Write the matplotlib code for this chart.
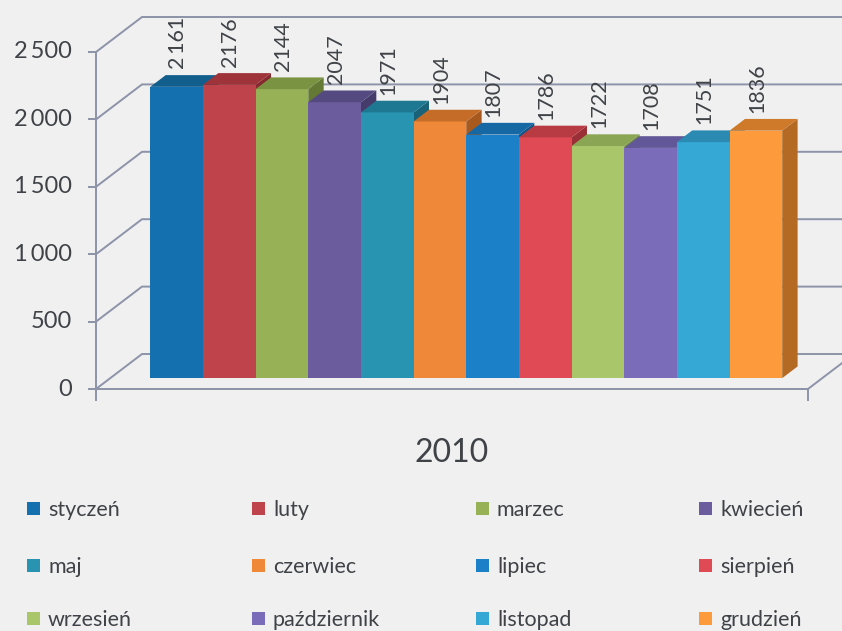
import matplotlib
matplotlib.use("Agg")
import matplotlib.pyplot as plt
from matplotlib.patches import Polygon, Rectangle

plt.rcParams['font.family'] = ['Lato', 'DejaVu Sans']

# ---------------- data ----------------
months = ["styczeń", "luty", "marzec", "kwiecień", "maj", "czerwiec",
          "lipiec", "sierpień", "wrzesień", "październik", "listopad", "grudzień"]
values = [2161, 2176, 2144, 2047, 1971, 1904, 1807, 1786, 1722, 1708, 1751, 1836]
value_labels = ["2\u2009161", "2176", "2144", "2047", "1971", "1904",
                "1807", "1786", "1722", "1708", "1751", "1836"]
y_ticks = [0, 500, 1000, 1500, 2000, 2500]
y_tick_labels = ["0", "500", "1\u2009000", "1\u2009500", "2\u2009000", "2\u2009500"]
category_title = "2010"

front_colors = ["#1470ae", "#bf434a", "#97b156", "#6b5c9d", "#2994b2", "#f0883a",
                "#1b80c8", "#e04a55", "#a9c66a", "#7a6cb8", "#35a8d6", "#fd9a3c"]
top_colors = ["#125f8e", "#9e3439", "#7a9342", "#554a80", "#1f7892", "#c56d28",
              "#1568a4", "#b83a43", "#8aa654", "#625798", "#2a8ab2", "#cf7a2a"]
side_colors = ["#0e4f76", "#85292e", "#647a34", "#463c6b", "#18637a", "#a8591e",
               "#105688", "#9a2f37", "#748c44", "#51477e", "#227296", "#b46a22"]

# ---------------- geometry ----------------
W, H = 842, 631
fig = plt.figure(figsize=(W / 100, H / 100), dpi=100)
fig.patch.set_facecolor("#f0f0f1")
ax = fig.add_axes([0, 0, 1, 1])
ax.set_facecolor("#f0f0f1")
ax.axis("off")

n = len(values)
PXC = 52.66            # pixels per category
PXV = 337 / 2500       # pixels per value unit
AX_PX, AX_PY = 96, 389  # front axis origin in pixels (from top-left)
XL = -1.26
XR = n - 1 + 1.26
ax.set_xlim(XL - AX_PX / PXC, XL + (W - AX_PX) / PXC)
ax.set_ylim(-(H - AX_PY) / PXV, AX_PY / PXV)

DX = 46 / PXC
DY = 35 / PXV
d0, d1 = 0.31, 0.645

line_c = "#8d93a8"
lw = 1.4
txt_c = "#3f4347"

# walls / grid
for v in y_ticks:
    ax.plot([XL, XL + DX, XR + DX + 2], [v, v + DY, v + DY], color=line_c, lw=lw, zorder=1,
            solid_capstyle="butt")
    ax.plot([XL - 7 / PXC, XL], [v, v], color=line_c, lw=lw, zorder=1)
ax.plot([XL, XL], [-11 / PXV, y_ticks[-1]], color=line_c, lw=lw, zorder=1)
ax.plot([XL, XR], [0, 0], color=line_c, lw=lw, zorder=1)
ax.plot([XR, XR], [0, -11 / PXV], color=line_c, lw=lw, zorder=1)
ax.plot([XR, XR + DX * 1.5], [0, DY * 1.5], color=line_c, lw=lw, zorder=1)

for v, lab in zip(y_ticks, y_tick_labels):
    ax.text(XL - 24 / PXC, v, lab, ha="right", va="center", fontsize=17, color=txt_c)

# bars
for i, v in enumerate(values):
    z = 3 + i
    x0, x1 = i - 0.5, i + 0.5
    ox0, oy0 = d0 * DX, d0 * DY
    ox1, oy1 = d1 * DX, d1 * DY
    side = Polygon([(x1 + ox0, oy0), (x1 + ox1, oy1), (x1 + ox1, v + oy1), (x1 + ox0, v + oy0)],
                   closed=True, facecolor=side_colors[i], edgecolor="none", zorder=z)
    ax.add_patch(side)
    ax.bar(i + ox0, v, width=1.0, bottom=oy0, color=front_colors[i], edgecolor="none",
           zorder=z, linewidth=0)
    top = Polygon([(x0 + ox0, v + oy0), (x1 + ox0, v + oy0), (x1 + ox1, v + oy1), (x0 + ox1, v + oy1)],
                  closed=True, facecolor=top_colors[i], edgecolor="none", zorder=z)
    ax.add_patch(top)
    ax.text(i + ox0 + 1 / PXC, v + oy1 + 6 / PXV, value_labels[i], rotation=90,
            ha="center", va="bottom", fontsize=15.5, color=txt_c, zorder=30)

# category title
ax.text((XL + XR) / 2, -(453 - AX_PY) / PXV, category_title, ha="center", va="center",
        fontsize=23, color=txt_c)

# legend (4 columns x 3 rows, row-major)
col_x = [27, 252, 476, 699]
row_y = [508, 565, 618]
sq = 13
for k, name in enumerate(months):
    r, c = divmod(k, 4)
    px, py = col_x[c], row_y[r]
    fig.patches.append(Rectangle((px / W, 1 - (py + sq / 2) / H), sq / W, sq / H,
                                 transform=fig.transFigure, facecolor=front_colors[k],
                                 edgecolor="none"))
    fig.text((px + sq + 8) / W, 1 - py / H, name, ha="left", va="center_baseline",
             fontsize=15.5, color=txt_c)

fig.savefig("out.png", dpi=100, facecolor=fig.get_facecolor())
